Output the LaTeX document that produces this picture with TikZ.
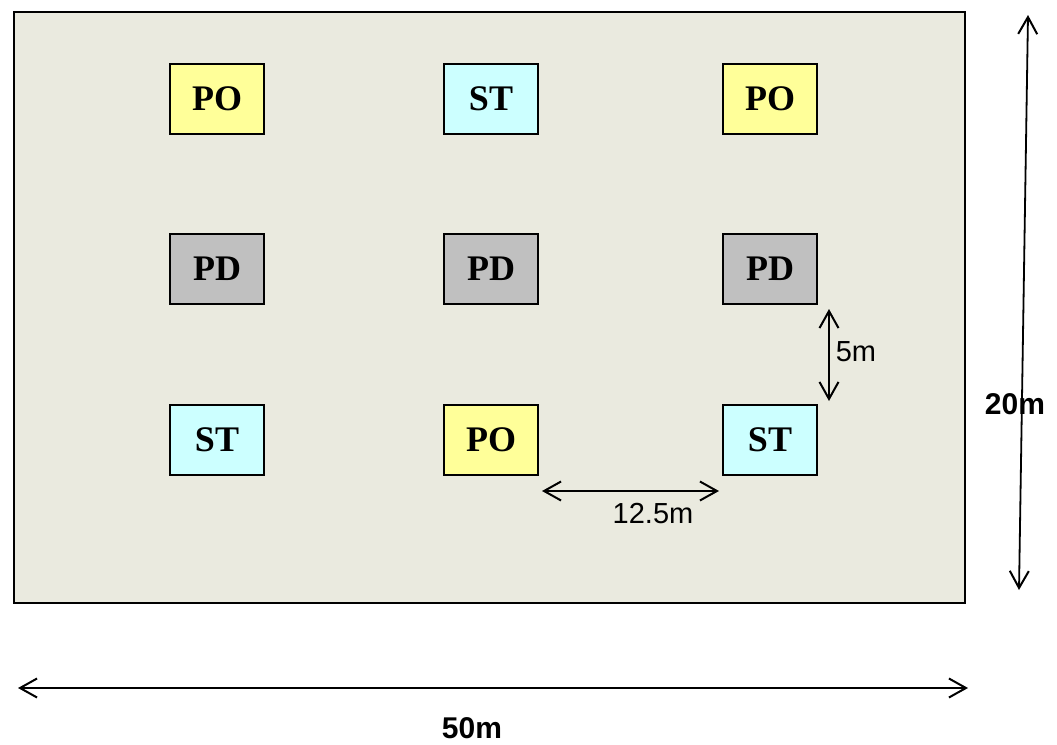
\documentclass[tikz,border=0pt]{standalone}
\usepackage{fontspec}
\setmainfont{Liberation Serif}
\setsansfont{Liberation Sans}
\usetikzlibrary{arrows.meta}
\definecolor{field}{RGB}{234,234,223}
\definecolor{po}{RGB}{255,255,153}
\definecolor{st}{RGB}{204,255,255}
\definecolor{pd}{RGB}{192,192,192}
\tikzset{
  plot/.style={draw=black,line width=1.8pt,minimum width=94pt,minimum height=70pt,inner sep=0pt,
    font=\fontsize{36}{36}\selectfont\bfseries},
  poBox/.style={plot,fill=po},
  stBox/.style={plot,fill=st},
  pdBox/.style={plot,fill=pd},
  dim/.style={line width=1.8pt,{Straight Barb[length=17pt,width=19pt,line width=2pt]}-{Straight Barb[length=17pt,width=19pt,line width=2pt]}},
  dimlabel/.style={font=\sffamily\fontsize{29}{29}\selectfont,inner sep=0pt},
  biglabel/.style={font=\sffamily\bfseries\fontsize{30}{30}\selectfont,inner sep=0pt}
}
\begin{document}
\begin{tikzpicture}[x=1pt,y=-1pt]
\useasboundingbox (0,0) rectangle (1057,744);
\draw[line width=1.8pt,fill=field] (14,12) rectangle (965,603);
% row 1
\node[poBox] (po1) at (217,99) {PO};
\node[stBox] (st1) at (491,99) {ST};
\node[poBox] (po2) at (770,99) {PO};
% row 2
\node[pdBox] (pd1) at (217,269) {PD};
\node[pdBox] (pd2) at (491,269) {PD};
\node[pdBox] (pd3) at (770,269) {PD};
% row 3
\node[stBox] (st2) at (217,440) {ST};
\node[poBox] (po3) at (491,440) {PO};
\node[stBox] (st3) at (770,440) {ST};
% dimensions
\coordinate (v5a) at (829,309);
\coordinate (v5b) at (829,401);
\draw[dim] (v5a) -- (v5b);
\node[dimlabel] (l5) at (856,352) {5m};
\coordinate (h12a) at (542,491);
\coordinate (h12b) at (719,491);
\draw[dim] (h12a) -- (h12b);
\node[dimlabel] (l12) at (653,514) {12.5m};
\coordinate (v20a) at (1028,15);
\coordinate (v20b) at (1019,590);
\draw[dim] (v20a) -- (v20b);
\node[biglabel] (l20) at (1015,404) {20m};
\coordinate (h50a) at (18,688);
\coordinate (h50b) at (968,688);
\draw[dim] (h50a) -- (h50b);
\node[biglabel] (l50) at (472,728) {50m};
\end{tikzpicture}
\end{document}
